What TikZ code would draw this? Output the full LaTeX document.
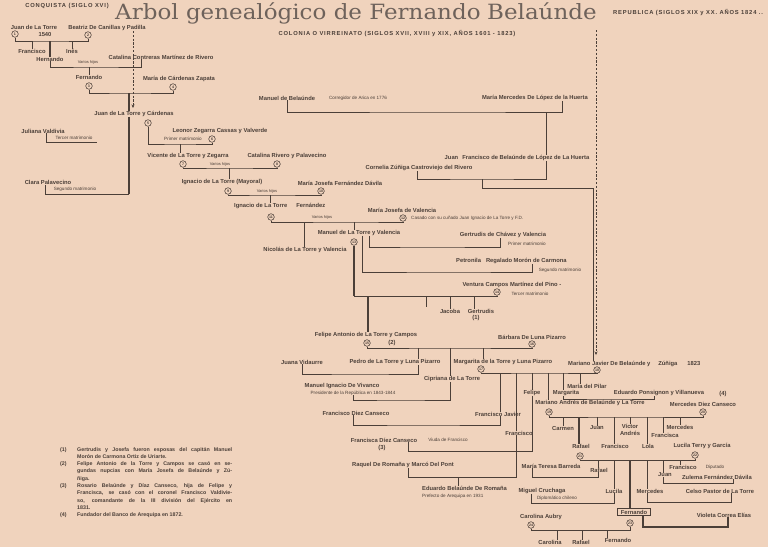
\documentclass[tikz,border=0pt]{standalone}
\usepackage{fontspec}
\setmainfont{Liberation Sans}
\newfontfamily\titlefont{DejaVu Serif}
\usetikzlibrary{calc, positioning}
\usetikzlibrary{arrows.meta}

\definecolor{paper}{HTML}{F0D3BD}
\definecolor{ink}{HTML}{4B3F38}
\definecolor{fade}{HTML}{6E625B}

\tikzset{
  person/.style={inner sep=0pt, text=ink, font=\fontsize{5.8}{6}\selectfont\bfseries},
  remark/.style={inner sep=0pt, text=ink, font=\fontsize{4.6}{5}\selectfont},
  hijos/.style={inner sep=0pt, text=ink, font=\fontsize{4}{4}\selectfont},
  num/.style={circle, draw=ink, line width=0.55pt, inner sep=0pt, minimum size=6.6pt, text=ink, font=\fontsize{3.6}{4}\selectfont\bfseries},
  header/.style={inner sep=0pt, text=ink, font=\fontsize{5.8}{6}\selectfont\bfseries\addfontfeature{LetterSpace=14}},
  tie/.style={draw=ink, line width=0.8pt},
  stem/.style={draw=ink, line width=1.4pt},
  era/.style={draw=ink, line width=0.7pt, dash pattern=on 2.2pt off 1.6pt, -{Stealth[length=3.5pt, width=3pt]}},
}

\begin{document}
\begin{tikzpicture}[x=1pt, y=-1pt]
\fill[paper] (0,0) rectangle (768,547);
\useasboundingbox (0,0) rectangle (768,547);

% headings
\node[header] (conquista) at (67,6) {CONQUISTA (SIGLO XVI)};
\node[anchor=base west, inner sep=0pt, text=fade, font=\titlefont\fontsize{21}{21}\selectfont] (titulo) at (115,19.5) {\scalebox{1.095}[1]{Arbol genealógico de Fernando\hspace{6pt}Belaúnde}};
\node[header] (colonia) at (397,34) {COLONIA O VIRREINATO (SIGLOS XVII, XVIII y XIX, AÑOS 1601 - 1823)};
\node[header, anchor=west] (republica) at (613,13) {REPUBLICA (SIGLOS XIX y XX. AÑOS 1824 ..};

% era limits
\coordinate (eraA) at (133,31);
\coordinate (eraB) at (133,108);
\coordinate (eraC) at (596,30);
\coordinate (eraD) at (596,355);
\draw[era] (eraA) -- (eraB);
\draw[era] (eraC) -- (eraD);

% conquista
\node[person] (juanT) at (34,27) {Juan de La Torre};
\node[person] (y1540) at (45,34) {1540};
\node[num] (c1) at (15,34) {1};
\node[person] (beatriz) at (107,28) {Beatriz De Canillas y Padilla};
\node[num] (c2) at (88,35) {2};
\coordinate (m1) at (50,41);
\draw[tie] (c1) |- (m1) -| (c2);
\node[person] (francisco1) at (32,51) {Francisco};
\node[person] (ines) at (72,51) {Inés};
\node[person] (hernando) at (50,59) {Hernando};
\draw[tie] (francisco1 |- m1) -- (francisco1);
\draw[tie] (ines |- m1) -- (ines);
\draw[stem] (hernando |- m1) -- (hernando);

\node[person] (catalinaC) at (161,57) {Catalina Contreras Martínez de Rivero};
\coordinate (m2) at (96,67);
\draw[tie] (hernando) |- (m2) -| ([xshift=-20pt]catalinaC.south);
\node[hijos] at (88,62) {Varios hijos};
\node[person] (fernando1) at (89,77) {Fernando};
\draw[tie] (fernando1 |- m2) -- (fernando1);
\node[num] (c3) at (89,86) {3};
\node[person] (mariaC) at (179,79) {María de Cárdenas Zapata};
\node[num] (c4) at (173,87) {4};
\coordinate (m3) at (129,93);
\draw[tie] (c3) |- (m3) -| (c4);

\node[person] (juanTC) at (134,114) {Juan de La Torre y Cárdenas};
\draw[stem] (m3) -- (m3 |- juanTC.north);
\node[num] (c5) at (148,123) {5};
\node[person] (juliana) at (43,131) {Juliana Valdivia};
\node[remark] at (74,137.5) {Tercer matrimonio};
\node[person] (clara) at (48,182.5) {Clara Palavecino};
\node[remark] at (75,189) {Segundo matrimonio};
\coordinate (m5) at (129,194);
\coordinate (m4) at (97,142);
\draw[stem] (m5 |- juanTC.south) -- (m5);
\draw[tie] ([xshift=-3pt]clara.south) |- (m5);
\draw[tie] ([xshift=3pt]juliana.south) |- (m4);

% colonia
\node[person] (leonor) at (220,131) {Leonor Zegarra Cassas y Valverde};
\node[num] (c6) at (212,139) {6};
\node[remark] at (183,139) {Primer matrimonio};
\coordinate (m6) at (180,144);
\draw[tie] (c5) |- (m6) -| (c6);
\node[person] (vicente) at (188,156) {Vicente de La Torre y Zegarra};
\draw[tie] (m6) -- (m6 |- vicente.north);

\node[num] (c7) at (183,164) {7};
\node[person] (catalinaR) at (287,156) {Catalina Rivero y Palavecino};
\node[num] (c8) at (277,164) {8};
\coordinate (m7) at (229,168);
\draw[tie] (c7) |- (m7) -| (c8);
\node[hijos] at (220,164) {Varios hijos};
\node[person] (ignacioM) at (222,182) {Ignacio de La Torre (Mayoral)};
\draw[tie] (m7) -- (m7 |- ignacioM.north);

\node[num] (c9) at (228,191) {9};
\node[person] (mariaJF) at (340,183) {María Josefa Fernández Dávila};
\node[num] (c10) at (321,191) {10};
\coordinate (m9) at (270,195);
\draw[tie] (c9) |- (m9) -| (c10);
\node[hijos] at (267,191) {Varios hijos};
\node[person, anchor=west] (ignacioF) at (234,206) {Ignacio de La Torre\hspace{9pt}Fernández};
\draw[tie] (m9) -- (m9 |- ignacioF.north);

\node[num] (c11) at (271,217) {11};
\node[person] (mariaJV) at (402,210) {María Josefa de Valencia};
\node[num] (c12) at (403,218) {12};
\node[remark, anchor=west] at (411,218) {Casado con su cuñado Juan Ignacio de La Torre y F.D.};
\coordinate (m11) at (354,222);
\draw[tie] (c11) |- (m11) -| (c12);
\node[hijos] at (322,217) {Varios hijos};
\node[person] (nicolas) at (305,250) {Nicolás de La Torre y Valencia};
\node[person] (manuelV) at (359,233) {Manuel de La Torre y Valencia};
\draw[tie] ([xshift=-1pt]nicolas.north |- m11) -- ([xshift=-1pt]nicolas.north);
\draw[tie] (m11) -- (m11 |- manuelV.north);

\node[num] (c13) at (354,242) {13};
\node[person] (gertrudisCh) at (503,235) {Gertrudis de Chávez y Valencia};
\node[remark] at (527,244) {Primer matrimonio};
\coordinate (m13a) at (430,247);
\draw[tie] ([xshift=10pt]manuelV.south) |- (m13a) -| ([xshift=-3pt]gertrudisCh.south);
\node[person, anchor=west] (petronila) at (456,261) {Petronila\hspace{5pt}Regalado Morón de Carmona};
\node[remark] at (560,270) {Segundo matrimonio};
\coordinate (m13b) at (450,272);
\draw[tie] ([xshift=3pt]manuelV.south) |- (m13b) -| ([xshift=76pt]petronila.south west);
\node[person] (ventura) at (512,285) {Ventura Campos Martínez del Pino -};
\node[num] (c14) at (497,292) {14};
\node[remark] at (530,294) {Tercer matrimonio};
\coordinate (m13c) at (426,296);
\draw[stem] (c13) -- (c13 |- m13c);
\draw[tie] (c13 |- m13c) -| (c14);
\draw[tie] (m13c) -- ++(0,11);
\node[person] (jacoba) at (450,311) {Jacoba};
\node[person] (gertrudis) at (481,311) {Gertrudis};
\node[person] at (476,318) {(1)};
\draw[tie] (jacoba |- m13c) -- (jacoba);
\draw[tie] ([xshift=-7pt]gertrudis.north |- m13c) -- ([xshift=-7pt]gertrudis.north);

\node[person] (felipeA) at (366,335) {Felipe Antonio de La Torre y Campos};
\draw[stem] ([xshift=2pt]felipeA.north |- m13c) -- ([xshift=2pt]felipeA.north);
\node[num] (c15) at (367,343) {15};
\node[person] at (392,343) {(2)};
\node[person] (barbara) at (532,337) {Bárbara De Luna Pizarro};
\node[num] (c16) at (532,344) {16};
\coordinate (m15) at (450,348);
\draw[tie] (c15) |- (m15) -| (c16);

\node[person] (pedro) at (395,362) {Pedro de La Torre y Luna Pizarro};
\node[person] (juana) at (302,362) {Juana Vidaurre};
\coordinate (m16) at (360,374);
\draw[tie] ([xshift=23pt]pedro.north |- m15) -- ([xshift=23pt]pedro.north);
\draw[tie] ([xshift=23pt]pedro.south) |- (m16) -| (juana.south);
\node[person] (cipriana) at (452,379) {Cipriana de La Torre};
\draw[tie] ([xshift=-2pt]cipriana.north |- m15) -- ([xshift=-2pt]cipriana.north);
\node[person] (vivanco) at (342,386) {Manuel Ignacio De Vivanco};
\node[remark] (presidente) at (353,393) {Presidente de la República en 1843-1844};
\coordinate (m17) at (400,400);
\draw[tie] ([xshift=-2pt]cipriana.south) |- (m17) -| (presidente.south);

\node[person] (margarita) at (503,362) {Margarita de la Torre y Luna Pizarro};
\draw[tie] ([xshift=-20pt]margarita.north |- m15) -- ([xshift=-20pt]margarita.north);
\node[num] (c17) at (481,369) {17};

% republica
\node[person] (manuelB) at (287,98) {Manuel de Belaúnde};
\node[remark] at (358,98) {Corregidor de Arica en 1776};
\node[person] (mariaMH) at (535,98) {María Mercedes De López de la Huerta};
\coordinate (m40) at (450,112);
\draw[tie] (manuelB.south) |- (m40) -| ([xshift=27pt]mariaMH.south);
\node[person] (juanFB) at (517,158) {Juan\hspace{4pt}Francisco de Belaúnde de López de La Huerta};
\draw[tie] ([xshift=29pt]juanFB.north |- m40) -- ([xshift=29pt]juanFB.north);
\node[person] (cornelia) at (419,168) {Cornelia Zúñiga Castroviejo del Rivero};
\coordinate (m41) at (482,179);
\draw[tie] ([xshift=29pt]juanFB.south) |- (m41) -| ([xshift=-2pt]cornelia.south);

\node[person, anchor=west] (marianoJ) at (568,364) {Mariano Javier De Belaúnde y\hspace{8pt}Zúñiga\hspace{10pt}1823};
\coordinate (m42) at (593,188);
\draw[tie] (m41) |- (m42) -- (m42 |- marianoJ.north);
\node[num] (c18) at (597,370) {18};
\coordinate (m18) at (540,373);
\draw[tie] (c17) |- (m18) -| (c18);

\node[person] (franciscoJ) at (498,414) {Francisco Javier};
\draw[tie] ([xshift=2pt]franciscoJ.north |- m18) -- ([xshift=2pt]franciscoJ.north);
\node[person] (franciscoDC) at (356,413) {Francisco Diez Canseco};
\coordinate (m19) at (420,425);
\draw[tie] ([xshift=2pt]franciscoJ.south) |- (m19) -| ([xshift=-3pt]franciscoDC.south);

\node[person] (francisco2) at (519,433) {Francisco};
\draw[tie] ([xshift=-3pt]francisco2.north |- m18) -- ([xshift=-3pt]francisco2.north);
\node[person] (raquel) at (403,465) {Raquel De Romaña y Marcó Del Pont};
\coordinate (m21) at (460,477);
\draw[tie] ([xshift=-3pt]francisco2.south) |- (m21) -| ([xshift=5pt]raquel.south);
\node[person, anchor=west] (eduardo) at (422,488) {Eduardo Belaúnde De Romaña};
\node[remark, anchor=west] at (422,496) {Prefecto de Arequipa en 1931};
\draw[tie] (458,0 |- m21) -- (458,0 |- eduardo.north);

\node[person] (felipe) at (532,393) {Felipe};
\draw[tie] (felipe |- m18) -- (felipe);
\node[person] (franciscaDC) at (384,440) {Francisca Díez Canseco};
\node[person] at (382,448) {(3)};
\node[remark] at (448,440) {Viuda de Francisco};
\coordinate (m22) at (470,451);
\draw[tie] (felipe.south) |- (m22) -| ([xshift=24pt]franciscaDC.south);

\node[person] (marianoA) at (590,403) {Mariano Andrés de Belaúnde y La Torre};
\draw[tie] ([xshift=-42pt]marianoA.north |- m18) -- ([xshift=-42pt]marianoA.north);
\node[person] (margarita2) at (566,393) {Margarita};
\draw[tie] ([xshift=-3pt]margarita2.north |- m18) -- ([xshift=-3pt]margarita2.north);
\node[person] (eduardoP) at (659,393) {Eduardo Ponsignon y Villanueva};
\node[person] at (723,394) {(4)};
\coordinate (m23) at (610,399);
\draw[tie] ([xshift=-3pt]margarita2.south) |- (m23) -| ([xshift=-5pt]eduardoP.south);
\node[person] (mariaP) at (587,386) {María del Pilar};
\draw[tie] ([xshift=-7pt]mariaP.north |- m18) -- ([xshift=-7pt]mariaP.north);

\node[num] (c19) at (549,412) {19};
\node[person] (mercedesDC) at (703,404) {Mercedes Diez Canseco};
\node[num] (c20) at (703,412) {20};
\coordinate (m24) at (626,417);
\draw[tie] (c19) |- (m24) -| (c20);
\node[person] (carmen) at (563,428) {Carmen};
\node[person] (rafael1) at (581,446) {Rafael};
\node[person] (juan1) at (597,428) {Juan};
\node[person] (francisco3) at (615,446) {Francisco};
\node[person, align=center, font=\fontsize{5.8}{6.6}\selectfont\bfseries] (victor) at (630,430) {Víctor\\Andrés};
\node[person] (lola) at (648,446) {Lola};
\node[person] (francisca) at (665,435) {Francisca};
\node[person] (mercedes1) at (680,427) {Mercedes};
\draw[tie] (carmen |- m24) -- (carmen);
\draw[stem] ([xshift=-2pt]rafael1.north |- m24) -- ([xshift=-2pt]rafael1.north);
\draw[tie] (juan1 |- m24) -- (juan1);
\draw[tie] ([xshift=-1pt]francisco3.north |- m24) -- ([xshift=-1pt]francisco3.north);
\draw[tie] (victor |- m24) -- (victor);
\draw[tie] ([xshift=-1pt]lola.north |- m24) -- ([xshift=-1pt]lola.north);
\draw[tie] ([xshift=-2pt]francisca.north |- m24) -- ([xshift=-2pt]francisca.north);
\draw[tie] (mercedes1 |- m24) -- (mercedes1);

\node[num] (c21) at (580,456) {21};
\node[person] (lucila) at (702,446) {Lucila Terry y García};
\node[num] (c22) at (695,455) {22};
\coordinate (m25) at (640,460);
\draw[tie] (c21) |- (m25) -| (c22);

\node[person] (rafael2) at (599,470) {Rafael};
\node[person] (mariaTB) at (551,466) {María Teresa Barreda};
\coordinate (m26) at (565,477);
\draw[tie] ([xshift=-1pt]rafael2.north |- m25) -- ([xshift=-1pt]rafael2.north);
\draw[tie] ([xshift=-19pt]mariaTB.south) |- (m26) -| ([xshift=-1pt]rafael2.south);

\node[person] (lucila2) at (614,491) {Lucila};
\node[person] (miguel) at (542,491) {Miguel Cruchaga};
\node[remark] at (557,498) {Diplomático chileno};
\coordinate (m27) at (570,503);
\draw[tie] (lucila2 |- m25) -- (lucila2);
\draw[tie] ([xshift=-11pt]miguel.south) |- (m27) -| (lucila2.south);

\node[person, draw=ink, line width=0.6pt, inner xsep=3pt, inner ysep=1.6pt] (fernando2) at (634,512) {Fernando};
\draw[stem] ([xshift=-4pt]fernando2.north |- m25) -- ([xshift=-4pt]fernando2.north);

\node[person] (mercedes2) at (650,491) {Mercedes};
\node[person] (celso) at (720,491) {Celso Pastor de La Torre};
\coordinate (m28) at (690,502);
\draw[tie] ([xshift=-3pt]mercedes2.north |- m25) -- ([xshift=-3pt]mercedes2.north);
\draw[tie] ([xshift=-3pt]mercedes2.south) |- (m28) -| ([xshift=11pt]celso.south);

\node[person] (juan2) at (665,475) {Juan};
\node[person] (zulema) at (717,477) {Zulema Fernández Dávila};
\coordinate (m29) at (700,483);
\draw[tie] ([xshift=-2pt]juan2.north |- m25) -- ([xshift=-2pt]juan2.north);
\draw[tie] ([xshift=-2pt]juan2.south) |- (m29) -| ([xshift=16pt]zulema.south);

\node[person] (francisco4) at (683,467) {Francisco};
\node[remark] at (715,467) {Diputado};
\draw[tie] ([xshift=-3pt]francisco4.north |- m25) -- ([xshift=-3pt]francisco4.north);

\node[num] (c23) at (630,523) {23};
\node[person] (violeta) at (724,515) {Violeta Correa Elías};
\coordinate (m30) at (690,527);
\draw[stem] ([xshift=9pt]fernando2.south) |- (m30) -| ([xshift=4pt]violeta.south);
\node[person] (carolinaA) at (541,517) {Carolina Aubry};
\node[num] (c24) at (531,525) {24};
\coordinate (m31) at (580,530);
\draw[tie] (c24) |- (m31) -| (c23);
\node[person] (carolina2) at (550,542) {Carolina};
\node[person] (rafael3) at (581,542) {Rafael};
\node[person] (fernando3) at (618,540) {Fernando};
\draw[tie] ([xshift=7pt]carolina2.north |- m31) -- ([xshift=7pt]carolina2.north);
\draw[tie] ([xshift=1pt]rafael3.north |- m31) -- ([xshift=1pt]rafael3.north);
\draw[tie] ([xshift=-11pt]fernando3.north |- m31) -- ([xshift=-11pt]fernando3.north);

% notes
\node[anchor=base west, inner sep=0pt, text=ink, font=\fontsize{5.3}{7.3}\selectfont\bfseries] (notas) at (60,451) {%
  \tolerance=9999\hyphenpenalty=10000
  \begin{tabular}[t]{@{}p{17pt}@{}p{155pt}@{}}
  (1) & Gertrudis y Josefa fueron esposas del capitán Manuel\linebreak Morón de Carmona Ortiz de Uriarte.\\
  (2) & Felipe Antonio de la Torre y Campos se casó en se-\linebreak gundas nupcias con María Josefa de Belaúnde y Zú-\linebreak ñiga.\\
  (3) & Rosario Belaúnde y Díaz Canseco, hija de Felipe y\linebreak Francisca, se casó con el coronel Francisco Valdivie-\linebreak so, comandante de la III división del Ejército en\linebreak 1831.\\
  (4) & Fundador del Banco de Arequipa en 1872.
  \end{tabular}};
\end{tikzpicture}
\end{document}
